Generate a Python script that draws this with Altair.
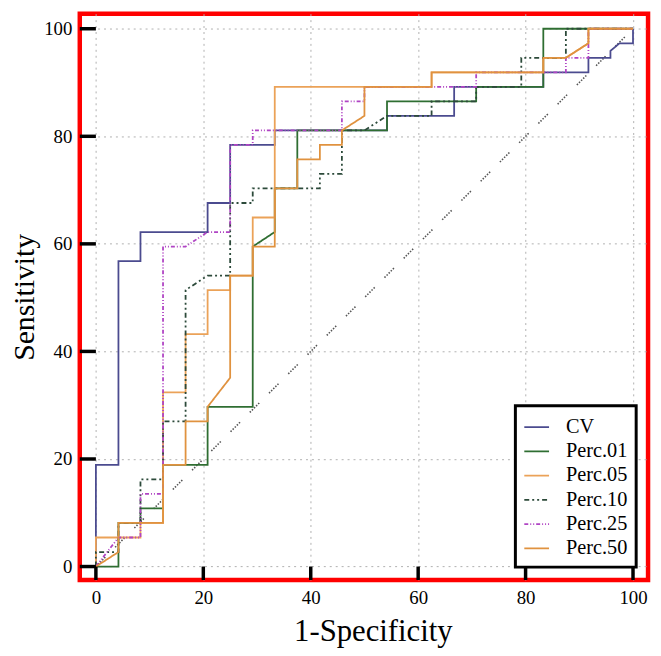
import altair as alt
import pandas as pd

# ---- data (percent) ----
series_names = ["CV", "Perc.01", "Perc.05", "Perc.10", "Perc.25", "Perc.50"]
series_colors = ["#4b4b8f", "#2f6e32", "#eba258", "#2c4a3a", "#b044c4", "#e0923f"]
series_dashes = [[1, 0], [1, 0], [1, 0], [5, 3, 2, 3, 2, 3], [4, 2, 1, 2, 1, 2], [1, 0]]

cv_fpr = [0, 0, 4.2, 4.2, 8.3, 8.3, 20.8, 20.8, 25.0, 25.0, 33.3, 33.3, 54.2, 54.2,
          66.7, 66.7, 83.3, 83.3, 91.7, 91.7, 95.8, 95.8, 97.5, 100, 100]
cv_tpr = [0, 18.9, 18.9, 56.8, 56.8, 62.2, 62.2, 67.6, 67.6, 78.4, 78.4, 81.1, 81.1, 83.8,
          83.8, 89.2, 89.2, 91.9, 91.9, 94.6, 94.6, 95.9, 97.3, 97.3, 100]

p01_fpr = [0, 4.2, 4.2, 8.3, 8.3, 12.5, 12.5, 20.8, 20.8, 29.2, 29.2, 33.3, 33.3, 37.5,
           37.5, 54.2, 54.2, 70.8, 70.8, 83.3, 83.3, 100]
p01_tpr = [0, 0, 8.1, 8.1, 10.8, 10.8, 18.9, 18.9, 29.7, 29.7, 59.5, 62.2, 70.3, 70.3,
           81.1, 81.1, 86.5, 86.5, 89.2, 89.2, 100, 100]

p05_fpr = [0, 0, 8.3, 8.3, 12.5, 12.5, 16.7, 16.7, 20.8, 20.8, 25.0, 25.0, 29.2, 29.2,
           33.3, 33.3, 62.5, 62.5, 83.3, 83.3, 87.5, 91.7, 91.7, 100]
p05_tpr = [0, 5.4, 5.4, 8.1, 8.1, 32.4, 32.4, 43.2, 43.2, 51.4, 51.4, 54.1, 54.1, 64.9,
           64.9, 89.2, 89.2, 91.9, 91.9, 94.6, 94.6, 97.3, 100, 100]

p10_fpr = [0, 0, 4.2, 4.2, 8.3, 8.3, 12.5, 12.5, 16.7, 16.7, 20.8, 25.0, 25.0, 29.2, 29.2,
           41.7, 41.7, 45.8, 45.8, 50.0, 54.2, 62.5, 62.5, 70.8, 70.8, 79.2, 79.2, 87.5, 87.5, 100]
p10_tpr = [0, 2.7, 2.7, 8.1, 8.1, 16.2, 16.2, 27.0, 27.0, 51.4, 54.1, 54.1, 67.6, 67.6, 70.3,
           70.3, 73.0, 73.0, 81.1, 81.1, 83.8, 83.8, 86.5, 86.5, 89.2, 89.2, 94.6, 94.6, 100, 100]

p25_fpr = [0, 4.2, 8.3, 8.3, 12.5, 12.5, 16.7, 20.8, 25.0, 25.0, 29.2, 29.2, 45.8, 45.8,
           50.0, 50.0, 70.8, 70.8, 87.5, 87.5, 91.7, 91.7, 100]
p25_tpr = [0, 5.4, 5.4, 13.5, 13.5, 59.5, 59.5, 62.2, 62.2, 78.4, 78.4, 81.1, 81.1, 86.5,
           86.5, 89.2, 89.2, 91.9, 91.9, 94.6, 94.6, 100, 100]

p50_fpr = [0, 4.2, 4.2, 12.5, 12.5, 16.7, 16.7, 20.8, 20.8, 25.0, 25.0, 29.2, 29.2, 33.3,
           33.3, 37.5, 37.5, 41.7, 41.7, 45.8, 45.8, 50.0, 50.0, 62.5, 62.5, 83.3, 83.3,
           87.5, 91.7, 91.7, 100]
p50_tpr = [0, 2.7, 8.1, 8.1, 18.9, 18.9, 27.0, 27.0, 29.7, 35.1, 54.1, 54.1, 59.5, 59.5,
           70.3, 70.3, 75.7, 75.7, 78.4, 78.4, 81.1, 83.8, 89.2, 89.2, 91.9, 91.9, 94.6,
           94.6, 97.3, 100, 100]

ref_x = [0, 100]
ref_y = [0, 100]
tick_values = [0, 20, 40, 60, 80, 100]
x_domain = [-3, 102.8]
y_domain = [-2.5, 102.8]

# ---- tables ----
rows = []
for name, fx, ty in zip(series_names,
                        [cv_fpr, p01_fpr, p05_fpr, p10_fpr, p25_fpr, p50_fpr],
                        [cv_tpr, p01_tpr, p05_tpr, p10_tpr, p25_tpr, p50_tpr]):
    for i, (a, b) in enumerate(zip(fx, ty)):
        rows.append({"series": name, "fpr": a, "tpr": b, "i": i})
df = pd.DataFrame(rows)
df_ref = pd.DataFrame({"fpr": ref_x, "tpr": ref_y})
df_xt = pd.DataFrame({"fpr": tick_values, "tpr": [y_domain[0]] * len(tick_values),
                      "tpr2": [0] * len(tick_values)})
df_yt = pd.DataFrame({"tpr": tick_values, "fpr": [x_domain[0]] * len(tick_values),
                      "fpr2": [0] * len(tick_values)})

W, H = 574, 572
SERIF = "Liberation Serif"

xs = alt.Scale(domain=x_domain, nice=False, zero=False)
ys = alt.Scale(domain=y_domain, nice=False, zero=False)

ax_x = alt.Axis(values=tick_values, grid=True, gridColor="#b0b0b0", gridDash=[2, 4],
                gridWidth=1, domain=False, ticks=False, tickSize=0,
                labelFont=SERIF, labelFontSize=19, labelColor="black", labelPadding=9,
                title="1-Specificity", titleFont=SERIF, titleFontSize=31,
                titleFontWeight="normal", titleColor="black",
                titleX=296, titleY=52, titleBaseline="middle", titleAlign="center")
ax_y = alt.Axis(values=tick_values, grid=True, gridColor="#b0b0b0", gridDash=[2, 4],
                gridWidth=1, domain=False, ticks=False, tickSize=0,
                labelFont=SERIF, labelFontSize=19, labelColor="black", labelPadding=8,
                title="Sensitivity", titleFont=SERIF, titleFontSize=30,
                titleFontWeight="normal", titleColor="black",
                titleX=-56, titleY=H / 2, titleBaseline="middle", titleAlign="center",
                titleAngle=270)

leg = alt.Legend(title=None, orient="none", legendX=440, legendY=396,
                 symbolType="stroke", symbolSize=625, symbolStrokeWidth=1.8,
                 labelFont=SERIF, labelFontSize=20.5, labelColor="black", labelOffset=16,
                 strokeColor="black", fillColor="white", padding=8, rowPadding=0.5)

diag = alt.Chart(df_ref).mark_line(color="#555555", strokeWidth=1.6,
                                   strokeDash=[1.5, 1.5, 1.5, 1.5, 1.5, 1.5, 1.5, 1.5, 1.5, 14]).encode(
    x=alt.X("fpr:Q", scale=xs, axis=ax_x),
    y=alt.Y("tpr:Q", scale=ys, axis=ax_y),
)

lines = alt.Chart(df).mark_line(strokeWidth=1.8, interpolate="linear").encode(
    x=alt.X("fpr:Q", scale=xs, axis=ax_x),
    y=alt.Y("tpr:Q", scale=ys, axis=ax_y),
    color=alt.Color("series:N", scale=alt.Scale(domain=series_names, range=series_colors),
                    legend=leg, sort=series_names),
    strokeDash=alt.StrokeDash("series:N", scale=alt.Scale(domain=series_names, range=series_dashes),
                              legend=leg, sort=series_names),
    order=alt.Order("i:Q"),
)

xt = alt.Chart(df_xt).mark_rule(color="black", strokeWidth=3.5).encode(
    x=alt.X("fpr:Q", scale=xs, axis=ax_x),
    y=alt.Y("tpr:Q", scale=ys, axis=ax_y),
    y2="tpr2:Q",
)
yt = alt.Chart(df_yt).mark_rule(color="black", strokeWidth=3.5).encode(
    y=alt.Y("tpr:Q", scale=ys, axis=ax_y),
    x=alt.X("fpr:Q", scale=xs, axis=ax_x),
    x2="fpr2:Q",
)

chart = alt.layer(diag, lines, xt, yt).properties(
    width=W, height=H,
    autosize=alt.AutoSizeParams(type="none"),
    padding={"left": 72.5, "top": 2.5, "right": 5, "bottom": 70},
    background="white",
).configure_view(stroke="#ff0000", strokeWidth=4.5).configure_legend(
    strokeWidth=3, labelFont=SERIF, labelFontSize=20.5, labelColor="black"
)

chart.save("out.html", embed_options={"renderer": "svg", "actions": False})
